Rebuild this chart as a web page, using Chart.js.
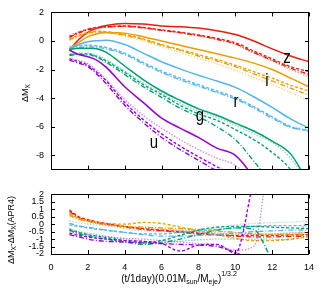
<!DOCTYPE html>
<html><head><meta charset="utf-8">
<script src="https://cdn.jsdelivr.net/npm/chart.js@4.4.0/dist/chart.umd.min.js"></script>
<style>
html,body{margin:0;padding:0;background:#fff;}
#wrap{position:relative;width:322px;height:289px;overflow:hidden;background:#fff;}
canvas{position:absolute;left:0;}
#c1{top:0;} #c2{top:182px;}
</style></head><body>
<div id="wrap"><canvas id="c1" width="322" height="182" style="width:322px;height:182px"></canvas><canvas id="c2" width="322" height="107" style="width:322px;height:107px"></canvas></div>
<script>
// ---- data ----
const xs = [1,1.5,2,2.5,3,4,5,6,7,8,9,10,11,12,13,14];
const topYTicks = [-8,-6,-4,-2,0,2];
const botYTicks = [-2,-1.5,-1,-0.5,0,0.5,1,1.5,2];
const xTicks = [0,2,4,6,8,10,12,14];
const bandNames = ['z','i','r','g','u'];

const zSolid = [-0.66,0.1,0.6,0.9,1.08,1.22,1.18,1.05,1.0,0.9,0.72,0.45,0.0,-0.55,-1.05,-1.45];
const zA = [0.3,0.6,0.82,0.95,1.0,1.05,0.95,0.78,0.62,0.42,0.18,-0.12,-0.7,-1.25,-1.8,-2.15];
const zB = [0.25,0.55,0.78,0.9,0.97,1.02,0.92,0.75,0.58,0.38,0.12,-0.2,-0.8,-1.35,-1.9,-2.35];
const zC = [0.4,0.62,0.85,0.95,1.0,1.02,0.9,0.72,0.55,0.35,0.1,-0.25,-0.85,-1.4,-2.0,-2.5];

const iSolid = [-0.55,-0.1,0.3,0.5,0.6,0.55,0.3,0.0,-0.3,-0.6,-0.9,-1.2,-1.55,-2.0,-2.6,-3.2];
const iA = [0.15,0.4,0.6,0.68,0.65,0.45,0.15,-0.25,-0.6,-0.95,-1.3,-1.7,-2.15,-2.6,-3.1,-3.5];
const iB = [0.1,0.35,0.55,0.62,0.6,0.4,0.1,-0.3,-0.65,-1.05,-1.4,-1.8,-2.3,-2.8,-3.3,-3.8];
const iC = [0.0,0.3,0.5,0.58,0.55,0.35,0.0,-0.4,-0.8,-1.2,-1.6,-2.05,-2.55,-3.05,-3.6,-4.2];

const rSolid = [-0.6,-0.25,-0.05,0.02,0.05,-0.25,-0.85,-1.45,-1.95,-2.4,-2.8,-3.25,-3.9,-4.65,-5.45,-6.1];
const rA = [-0.45,-0.35,-0.3,-0.35,-0.45,-0.85,-1.5,-2.1,-2.6,-3.05,-3.5,-3.95,-4.6,-5.3,-6.0,-6.3];
const rB = [-0.55,-0.45,-0.4,-0.45,-0.55,-0.95,-1.6,-2.2,-2.7,-3.15,-3.6,-4.05,-4.7,-5.4,-6.05,-6.25];
const rC = [-0.35,-0.3,-0.3,-0.35,-0.5,-0.9,-1.55,-2.2,-2.75,-3.2,-3.6,-4.05,-4.6,-5.3,-5.95,-6.15];

const gSolid = [-0.6,-0.5,-0.5,-0.55,-0.8,-1.75,-2.7,-3.5,-4.15,-4.75,-5.2,-5.75,-6.3,-7.0,-7.9,-10.0];
const gA = [-0.95,-0.9,-0.9,-1.1,-1.4,-2.2,-3.05,-3.75,-4.5,-5.1,-5.55,-6.2,-6.9,-7.8,-9.0,-11.0];
const gB = [-1.0,-0.95,-0.95,-1.15,-1.5,-2.35,-3.2,-3.95,-4.7,-5.3,-6.0,-6.9,-8.4,-10.0,-11.0,-12.0];
const gC = [-0.9,-0.85,-0.85,-1.0,-1.3,-2.1,-2.95,-3.65,-4.35,-4.9,-5.35,-5.9,-6.5,-7.1,-8.2,-10.0];

const uSolid = [-0.65,-0.95,-1.1,-1.35,-1.85,-3.2,-4.3,-5.4,-6.1,-6.75,-7.5,-8.0,-9.6,-12.0,-14.0,-16.0];
const uA = [-1.25,-1.45,-1.7,-2.2,-2.8,-4.3,-5.5,-6.5,-7.35,-8.1,-8.8,-9.5,-10.5,-11.5,-12.5,-13.5];
const uB = [-1.35,-1.55,-1.8,-2.35,-3.0,-4.5,-5.7,-6.75,-7.6,-8.35,-9.1,-9.8,-10.8,-12.0,-13.0,-14.0];
const uC = [-1.2,-1.35,-1.6,-2.1,-2.7,-4.1,-5.2,-6.1,-6.9,-7.6,-8.2,-8.7,-10.0,-11.5,-12.5,-13.5];

// lower panel: difference from APR4
const zdA = [0.95,0.5,0.3,0.15,0.05,-0.15,-0.3,-0.4,-0.5,-0.6,-0.7,-0.75,-0.75,-0.75,-0.72,-0.7];
const zdB = [0.85,0.45,0.25,0.1,0.0,-0.2,-0.35,-0.45,-0.55,-0.65,-0.72,-0.8,-0.85,-0.85,-0.82,-0.8];
const zdC = [0.75,0.4,0.22,0.1,0.02,-0.15,-0.25,-0.35,-0.45,-0.55,-0.6,-0.65,-0.7,-0.65,-0.6,-0.55];
const idA = [0.7,0.4,0.25,0.12,0.05,0.0,0.12,0.05,-0.2,-0.45,-0.7,-0.95,-1.1,-1.1,-1.0,-0.85];
const idB = [0.6,0.35,0.2,0.05,-0.05,-0.15,-0.2,-0.25,-0.3,-0.35,-0.45,-0.55,-0.65,-0.7,-0.7,-0.65];
const idC = [0.5,0.3,0.15,0.05,-0.05,-0.2,-0.3,-0.35,-0.4,-0.45,-0.5,-0.55,-0.6,-0.65,-0.6,-0.55];
const rdA = [-0.05,-0.15,-0.25,-0.35,-0.4,-0.55,-0.65,-0.65,-0.55,-0.45,-0.35,-0.25,-0.15,-0.1,-0.1,-0.1];
const rdB = [0.05,-0.1,-0.2,-0.3,-0.4,-0.55,-0.7,-0.8,-0.8,-0.75,-0.7,-0.6,-0.5,-0.45,-0.4,-0.4];
const rdC = [0.25,0.1,0.0,-0.05,-0.1,-0.3,-0.45,-0.5,-0.45,-0.35,-0.2,-0.05,0.05,0.1,0.15,0.2];
const gdA = [-0.35,-0.55,-0.7,-0.8,-0.9,-1.1,-1.25,-1.1,-0.75,-0.4,-0.2,-0.15,-0.15,-0.2,-0.25,-0.3];
const gdB = [-0.4,-0.65,-0.8,-0.9,-1.0,-1.2,-1.35,-1.25,-1.0,-0.7,-0.4,-0.25,-0.35,-2.3,-3.0,-3.0];
const gdC = [-0.3,-0.5,-0.6,-0.7,-0.8,-1.0,-1.15,-1.2,-1.15,-1.05,-1.0,-1.0,-1.0,-1.0,-1.05,0.4];
const udA = [-0.6,-0.75,-0.85,-0.95,-1.0,-1.1,-1.15,-1.3,-1.8,-1.4,-1.35,-1.95,3.0,8.0,8.0,8.0];
const udB = [-0.7,-0.85,-1.0,-1.1,-1.15,-1.2,-1.25,-1.3,-1.35,-1.4,-1.5,-1.9,-2.5,-3.0,-3.0,-3.0];
const udC = [-0.5,-0.6,-0.7,-0.8,-0.85,-0.95,-1.0,-1.1,-1.2,-1.3,-1.4,-1.75,-1.5,6.0,8.0,8.0];

// band label positions (data units)
const labelX = [12.8,11.72,10.04,8.08,5.59];
const labelY = [-1.19,-2.77,-4.28,-5.27,-7.12];

// ---- styling ----
const bandColors = ['#e51e10','#e69f00','#56b4e9','#009e73','#9400d3'];
const bandLight  = ['rgba(229,30,16,0.45)','rgba(230,159,0,0.45)','rgba(86,180,233,0.45)','rgba(0,158,115,0.45)','rgba(148,0,211,0.45)'];
const topSeries = [[zSolid,zA,zB,zC],[iSolid,iA,iB,iC],[rSolid,rA,rB,rC],[gSolid,gA,gB,gC],[uSolid,uA,uB,uC]];
const botSeries = [[zdA,zdB,zdC],[idA,idB,idC],[rdA,rdB,rdC],[gdA,gdB,gdC],[udA,udB,udC]];
const variantDash = [[3,2],[5,2,1,2],[1.5,1.5]];
const FONT = '"Liberation Sans", Arial, sans-serif';

function pts(arr){ return xs.map((x,k)=>({x:x,y:arr[k]})); }
function ds(arr,color,dash,w){
  return {data:pts(arr),borderColor:color,borderWidth:w,borderDash:dash,pointRadius:0,
          fill:false,cubicInterpolationMode:'monotone'};
}

const topData = [];
const botData = [];
for(let b=4;b>=0;b--){
  const s = topSeries[b];
  for(let v=0; v<3; v++){
    const col = v===2 ? bandLight[b] : bandColors[b];
    topData.push(ds(s[v+1], col, variantDash[v], 1.35));
    botData.push(ds(botSeries[b][v], col, variantDash[v], 1.35));
  }
  topData.push(ds(s[0], bandColors[b], [], 1.5));
}

// ---- helpers ----
function drawRich(ctx, segs, x, y, rot){
  ctx.save(); ctx.translate(x,y); ctx.rotate(rot);
  let w=0;
  segs.forEach(s=>{ctx.font=s.size+'px '+FONT; s.w=ctx.measureText(s.t).width; w+=s.w;});
  let cx=-w/2;
  ctx.textAlign='left'; ctx.textBaseline='alphabetic'; ctx.fillStyle='#000';
  segs.forEach(s=>{ctx.font=s.size+'px '+FONT; ctx.fillText(s.t,cx,s.dy||0); cx+=s.w;});
  ctx.restore();
}
function framePlugin(xt, yt){
  return {id:'frame', afterDraw(chart){
    const {ctx, chartArea:a, scales} = chart;
    ctx.save(); ctx.strokeStyle='#000'; ctx.lineWidth=1;
    ctx.strokeRect(Math.round(a.left)+0.5, Math.round(a.top)+0.5, Math.round(a.right-a.left)-1, Math.round(a.bottom-a.top));
    ctx.beginPath();
    const L=4;
    xt.forEach(v=>{ const p=Math.round(scales.x.getPixelForValue(v))+0.5;
      ctx.moveTo(p,a.top); ctx.lineTo(p,a.top+L); ctx.moveTo(p,a.bottom); ctx.lineTo(p,a.bottom-L); });
    yt.forEach(v=>{ const p=Math.round(scales.y.getPixelForValue(v))+0.5;
      ctx.moveTo(a.left,p); ctx.lineTo(a.left+L,p); ctx.moveTo(a.right,p); ctx.lineTo(a.right-L,p); });
    ctx.stroke(); ctx.restore();
  }};
}

const commonX = (extra)=>Object.assign({type:'linear',min:0,max:14,
  grid:{display:false,drawTicks:false},border:{display:false},
  afterBuildTicks:s=>{s.ticks=xTicks.map(v=>({value:v}));}}, extra);

// ---- top chart ----
new Chart(document.getElementById('c1'),{
  type:'line',
  data:{datasets:topData},
  options:{responsive:false,animation:false,devicePixelRatio:1,
    layout:{padding:{top:9,right:13,left:0,bottom:0}},
    plugins:{legend:{display:false},tooltip:{enabled:false}},
    scales:{
      x: commonX({ticks:{display:false}, afterFit:s=>{s.height=6;}}),
      y:{min:-9,max:2,grid:{display:false,drawTicks:false},border:{display:false},
         ticks:{font:{family:FONT,size:9},color:'#000',padding:7,callback:v=>String(v)},
         afterBuildTicks:s=>{s.ticks=topYTicks.map(v=>({value:v}));},
         afterFit:s=>{s.width=51;}}
    }
  },
  plugins:[framePlugin(xTicks, topYTicks),{id:'texts',afterDraw(chart){
    const ctx=chart.ctx, sx=chart.scales.x, sy=chart.scales.y;
    ctx.save(); ctx.fillStyle='#000'; ctx.font='15px '+FONT; ctx.textAlign='center'; ctx.textBaseline='middle';
    bandNames.forEach((n,k)=>{
      const px=sx.getPixelForValue(labelX[k]), py=sy.getPixelForValue(labelY[k]);
      ctx.save(); ctx.translate(px,py); ctx.scale(1,1.2); ctx.fillText(n,0,0); ctx.restore();
    });
    ctx.restore();
    drawRich(ctx,[{t:'\u0394M',size:9},{t:'X',size:6.5,dy:2}],28,93,-Math.PI/2);
  }}]
});

// ---- bottom chart ----
new Chart(document.getElementById('c2'),{
  type:'line',
  data:{datasets:botData},
  options:{responsive:false,animation:false,devicePixelRatio:1,
    layout:{padding:{top:5,right:13,left:0,bottom:0}},
    plugins:{legend:{display:false},tooltip:{enabled:false}},
    scales:{
      x: commonX({ticks:{font:{family:FONT,size:9},color:'#000',padding:8,maxRotation:0,autoSkip:false,callback:v=>String(v)},
                  afterFit:s=>{s.height=35;}}),
      y:{min:-2,max:2,grid:{display:false,drawTicks:false},border:{display:false},
         ticks:{font:{family:FONT,size:9},color:'#000',padding:7,autoSkip:false,callback:v=>String(v)},
         afterBuildTicks:s=>{s.ticks=botYTicks.map(v=>({value:v}));},
         afterFit:s=>{s.width=51;}}
    }
  },
  plugins:[framePlugin(xTicks, botYTicks),{id:'texts',afterDraw(chart){
    const ctx=chart.ctx;
    drawRich(ctx,[{t:'\u0394M',size:9},{t:'X',size:6.5,dy:2},{t:'-\u0394M',size:9},{t:'X',size:6.5,dy:2},{t:'(APR4)',size:9}],14,48,-Math.PI/2);
    drawRich(ctx,[{t:'(t/1day)(0.01M',size:10},{t:'sun',size:7,dy:2},{t:'/M',size:10},{t:'eje',size:7,dy:2},{t:')',size:10},{t:'1/3.2',size:7,dy:-6}],179,100,0);
  }}]
});
</script>
</body></html>
